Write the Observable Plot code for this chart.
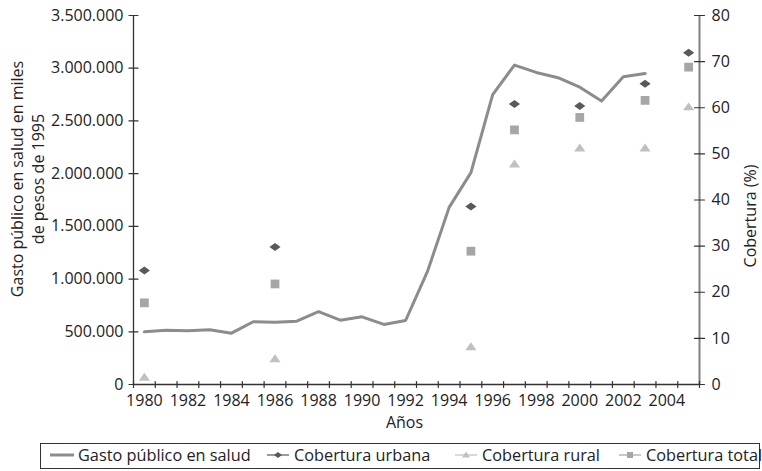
<!DOCTYPE html>
<html><head><meta charset="utf-8">
<script src="https://cdn.jsdelivr.net/npm/d3@7"></script>
<script src="https://cdn.jsdelivr.net/npm/@observablehq/plot@0.6"></script>
<style>
body{margin:0;background:#fff;font-family:"Open Sans",sans-serif;}
#wrap{position:relative;width:762px;height:471px;overflow:hidden;}
#chart{position:absolute;left:0;top:0;}
#legend{position:absolute;left:40px;top:443px;width:720px;height:26px;border:1px solid #333;box-sizing:border-box;font-size:16.3px;color:#222;}
.item{position:absolute;top:-1px;height:100%;display:flex;align-items:center;white-space:nowrap;}
.item svg{margin-right:4px;}
</style></head><body>
<div id="wrap"><div id="chart"></div><div id="legend"></div></div>
<script>
// ---- data ----
const years = [1980,1981,1982,1983,1984,1985,1986,1987,1988,1989,1990,1991,1992,1993,1994,1995,1996,1997,1998,1999,2000,2001,2002,2003];
const gasto = [500000,515000,509000,519000,487000,595000,591000,601000,692000,610000,642000,570000,607000,1070000,1680000,2010000,2750000,3030000,2960000,2910000,2820000,2690000,2920000,2950000];
const coverageYears = [1980,1986,1995,1997,2000,2003,2005];
const urbana = [24.7,29.8,38.6,60.8,60.4,65.2,71.9];
const rural  = [1.7,5.7,8.3,47.9,51.4,51.4,60.3];
const total  = [17.7,21.8,28.9,55.2,57.9,61.6,68.8];
const leftTicks = [0,500000,1000000,1500000,2000000,2500000,3000000,3500000];
const rightTicks = [0,10,20,30,40,50,60,70,80];
const xLabelYears = [1980,1982,1984,1986,1988,1990,1992,1994,1996,1998,2000,2002,2004];
const tickYears = d3.range(1980, 2007);

const K = 3500000 / 80; // right-axis (%) to left-axis units
const gastoData = years.map((y, i) => ({year: y, value: gasto[i]}));
const cov = (arr) => coverageYears.map((y, i) => ({year: y, value: arr[i]}));

const fmt = d => d === 0 ? "0" : d3.format(",")(d).replace(/,/g, ".");

const line = {draw(c, l) { c.moveTo(0, 0); c.lineTo(0, -l); }};
const diamondW = {draw(c, size) { const s = Math.sqrt(size); const w = 0.7 * s, h = 0.5 * s; c.moveTo(0, -h); c.lineTo(w, 0); c.lineTo(0, h); c.lineTo(-w, 0); c.closePath(); }};
const squareS = {draw(c, size) { const s = Math.sqrt(size) * 0.55; c.rect(-s, -s, 2 * s, 2 * s); }};
const triS = {draw(c, size) { const s = Math.sqrt(size); const w = 0.7 * s, h = 0.5 * s; c.moveTo(0, -h); c.lineTo(w, h); c.lineTo(-w, h); c.closePath(); }};

const C = {gasto: "#8c8c8c", urb: "#595959", rur: "#c0c0c0", tot: "#a6a6a6", axis: "#333", raxis: "#808080"};

const chart = Plot.plot({
  width: 762, height: 440,
  marginLeft: 133, marginRight: 63, marginTop: 15, marginBottom: 56,
  style: {fontFamily: "'Open Sans', sans-serif", fontSize: "16px", color: "#222", background: "#fff"},
  x: {domain: [1980, 2006], axis: null},
  y: {domain: [0, 3500000], axis: null},
  marks: [
    Plot.ruleY([0], {stroke: C.axis, strokeWidth: 1.3}),
    Plot.ruleX([1980], {stroke: C.axis, strokeWidth: 1.3}),
    Plot.ruleX([2006], {stroke: C.raxis, strokeWidth: 2}),
    Plot.vector(tickYears, {x: d => d, y: () => 0, length: 6, anchor: "middle", shape: line, stroke: C.axis, strokeWidth: 1.2}),
    Plot.vector(leftTicks, {x: () => 1980, y: d => d, length: 9, rotate: 90, anchor: "middle", shape: line, stroke: C.axis, strokeWidth: 1.2}),
    Plot.vector(rightTicks, {x: () => 2006, y: d => d * K, length: 10, rotate: 90, anchor: "middle", shape: line, stroke: C.axis, strokeWidth: 1.2}),
    Plot.axisY({anchor: "left", ticks: leftTicks, tickFormat: fmt, tickSize: 0, tickPadding: 10, label: null}),
    Plot.axisY({anchor: "right", ticks: rightTicks.map(v => v * K), tickFormat: d => String(Math.round(d / K)), tickSize: 0, tickPadding: 12, label: null}),
    Plot.axisX({ticks: xLabelYears.map(y => y + 0.5), tickFormat: d => String(Math.round(d - 0.5)), tickSize: 0, tickPadding: 10, label: null}),
    Plot.text(["Años"], {frameAnchor: "bottom", dx: -12, dy: 43, fill: "#222"}),
    Plot.text(["Gasto público en salud en miles"], {frameAnchor: "left", dx: -116, dy: -21, rotate: -90, textAnchor: "middle", lineAnchor: "middle", fill: "#222"}),
    Plot.text(["de pesos de 1995"], {frameAnchor: "left", dx: -95, dy: -21, rotate: -90, textAnchor: "middle", lineAnchor: "middle", fill: "#222"}),
    Plot.text(["Cobertura (%)"], {frameAnchor: "right", dx: 51, dy: 16, rotate: -90, textAnchor: "middle", lineAnchor: "middle", fill: "#222"}),
    Plot.line(gastoData, {x: d => d.year + 0.5, y: "value", stroke: C.gasto, strokeWidth: 3}),
    Plot.dot(cov(urbana), {x: d => d.year + 0.5, y: d => d.value * K, symbol: diamondW, r: 4.5, fill: C.urb, stroke: "none"}),
    Plot.dot(cov(rural), {x: d => d.year + 0.5, y: d => d.value * K, symbol: triS, r: 4.5, fill: C.rur, stroke: "none"}),
    Plot.dot(cov(total), {x: d => d.year + 0.5, y: d => d.value * K, symbol: squareS, r: 4.5, fill: C.tot, stroke: "none"})
  ]
});
document.getElementById("chart").appendChild(chart);

// ---- legend ----
const legendItems = [
  {label: "Gasto público en salud", left: 9, type: "line", color: C.gasto},
  {label: "Cobertura urbana", left: 225, type: "diamond", color: C.urb},
  {label: "Cobertura rural", left: 413, type: "tri", color: C.rur},
  {label: "Cobertura total", left: 577, type: "square", color: C.tot}
];
const lg = d3.select("#legend");
for (const it of legendItems) {
  const div = lg.append("div").attr("class", "item").style("left", it.left + "px");
  const svg = div.append("svg").attr("width", 24).attr("height", 12);
  if (it.type === "line") {
    svg.append("line").attr("x1", 0).attr("x2", 24).attr("y1", 6).attr("y2", 6).attr("stroke", it.color).attr("stroke-width", 3);
  } else {
    svg.append("line").attr("x1", 1).attr("x2", 23).attr("y1", 6).attr("y2", 6).attr("stroke", it.color).attr("stroke-width", 1.2);
    const p = it.type === "diamond" ? "M12,3L16,6L12,9L8,6Z" : it.type === "tri" ? "M12,2.5L16,8.5L8,8.5Z" : "M9,3H15V9H9Z";
    svg.append("path").attr("d", p).attr("fill", it.color);
  }
  div.append("span").text(it.label);
}
</script>
</body></html>
